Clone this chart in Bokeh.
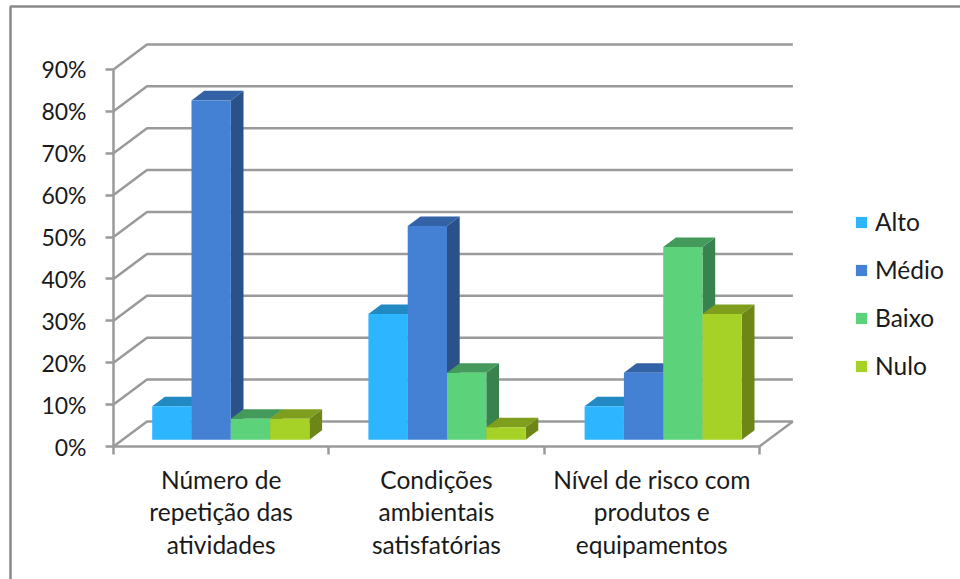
from bokeh.embed import file_html
from bokeh.models import FixedTicker, Legend, LegendItem, PrintfTickFormatter
from bokeh.plotting import figure
from bokeh.resources import INLINE

# Chart values (percent)
categories = [
    ["Número de", "repetição das", "atividades"],
    ["Condições", "ambientais", "satisfatórias"],
    ["Nível de risco com", "produtos e", "equipamentos"],
]
series_names = ["Alto", "Médio", "Baixo", "Nulo"]
alto = [8, 30, 8]
medio = [81, 51, 16]
baixo = [5, 16, 46]
nulo = [5, 3, 30]
y_ticks = [0, 10, 20, 30, 40, 50, 60, 70, 80, 90]

front_colors = ["#2DB5FF", "#4480D4", "#5CD27A", "#A6D228"]
top_colors = ["#2389C2", "#3363A6", "#449A5A", "#7F9E1E"]
side_colors = ["#2389C2", "#2A5288", "#388250", "#6E8618"]
GRID = "#9A9A9A"
BORDER = "#8A8A8A"
INK = "#1A1A1A"
FONT = "Lato"
AXIS_FONT_SIZE = "23px"
TEXT_FONT_SIZE = "24.5px"

WIDTH, HEIGHT = 960, 579
# Pixels per category and per percentage point; origin of the plot box on the page
PX_X, PX_Y = 215.3, 4.19
ORIGIN_X, ORIGIN_Y = 113, 446

# Projection constants of the pseudo-3D box, in data units
WALL_DX = 33.5 / PX_X
WALL_DY = 25 / PX_Y
BAR_DX = 12.7 / PX_X
BAR_DY = 9.6 / PX_Y
BAR_W = 39.3 / PX_X
BAR_LIFT = 6.7 / PX_Y
GROUP_PAD = 38.7 / PX_X
GROUP_STEP = 216.2 / PX_X

# The plot area fills the whole page, the axes are pinned at the box origin
p = figure(width=WIDTH, height=HEIGHT, output_backend="svg", toolbar_location=None,
           x_range=(-ORIGIN_X / PX_X, (WIDTH - ORIGIN_X) / PX_X),
           y_range=(-(HEIGHT - ORIGIN_Y) / PX_Y, ORIGIN_Y / PX_Y),
           min_border=0, outline_line_color=None, background_fill_color="white")
p.grid.visible = False

# Left wall diagonals and back wall lines at every tick
p.multi_line(xs=[[0, WALL_DX, 3 + WALL_DX] for _ in y_ticks],
             ys=[[v, v + WALL_DY, v + WALL_DY] for v in y_ticks],
             line_color=GRID, line_width=2.5)
# Right edge of the floor
p.line([3, 3 + WALL_DX], [0, WALL_DY], line_color=GRID, line_width=2.5)

# Bars: side and top faces first, front face last so each neighbour overlaps correctly
legend_items = []
for s, (name, values) in enumerate(zip(series_names, [alto, medio, baixo, nulo])):
    lefts = [GROUP_PAD + g * GROUP_STEP + s * BAR_W for g in range(3)]
    rights = [l + BAR_W for l in lefts]
    tops = [v + BAR_LIFT for v in values]
    p.patches(xs=[[r, r + BAR_DX, r + BAR_DX, r] for r in rights],
              ys=[[BAR_LIFT, BAR_LIFT + BAR_DY, t + BAR_DY, t] for t in tops],
              fill_color=side_colors[s], line_color=None)
    p.patches(xs=[[l, l + BAR_DX, r + BAR_DX, r] for l, r in zip(lefts, rights)],
              ys=[[t, t + BAR_DY, t + BAR_DY, t] for t in tops],
              fill_color=top_colors[s], line_color=None)
    front = p.quad(left=lefts, right=rights, bottom=BAR_LIFT, top=tops,
                   fill_color=front_colors[s], line_color=None)
    legend_items.append(LegendItem(label=name, renderers=[front]))

# Axes
for ax in (p.xaxis[0], p.yaxis[0]):
    ax.fixed_location = 0
    ax.axis_line_color = GRID
    ax.axis_line_width = 2.5
    ax.major_tick_line_color = GRID
    ax.major_tick_line_width = 2.5
    ax.major_tick_in = 0
    ax.major_tick_out = 8
    ax.minor_tick_line_color = None

p.yaxis[0].ticker = FixedTicker(ticks=y_ticks)
p.yaxis[0].bounds = (0, 90)
p.yaxis[0].formatter = PrintfTickFormatter(format="%d%%")
p.yaxis[0].major_label_text_font = FONT
p.yaxis[0].major_label_text_font_size = AXIS_FONT_SIZE
p.yaxis[0].major_label_text_color = INK
p.yaxis[0].major_label_standoff = 19

p.xaxis[0].ticker = FixedTicker(ticks=[0, 1, 2, 3])
p.xaxis[0].bounds = (0, 3)
p.xaxis[0].major_label_overrides = {0: "", 1: "", 2: "", 3: ""}

# Category labels, one line at a time for the wide line spacing
label_x, label_y, label_text = [], [], []
for i, lines in enumerate(categories):
    for j, line in enumerate(lines):
        label_x.append(i + 0.5)
        label_y.append(-(32.5 + j * 32.5) / PX_Y)
        label_text.append(line)
p.text(x=label_x, y=label_y, text=label_text, text_align="center",
       text_baseline="middle", text_font={"value": FONT},
       text_font_size={"value": TEXT_FONT_SIZE}, text_color=INK)

# Legend to the right of the plot box
legend = Legend(items=legend_items, location=(854, 199), orientation="vertical",
                border_line_color=None, background_fill_alpha=0,
                glyph_width=14, glyph_height=14, spacing=19, padding=0, margin=0,
                label_text_font=FONT, label_text_font_size=TEXT_FONT_SIZE,
                label_text_color=INK, label_standoff=7)
p.add_layout(legend, "center")

# Outer chart border along the top and left of the page
border_x = [(WIDTH - ORIGIN_X) / PX_X, (10 - ORIGIN_X) / PX_X, (10 - ORIGIN_X) / PX_X]
border_y = [(ORIGIN_Y - 6) / PX_Y, (ORIGIN_Y - 6) / PX_Y, -(HEIGHT - ORIGIN_Y) / PX_Y]
p.line(border_x, border_y, line_color=BORDER, line_width=2.5)

open("out.html", "w").write(file_html(p, INLINE))
